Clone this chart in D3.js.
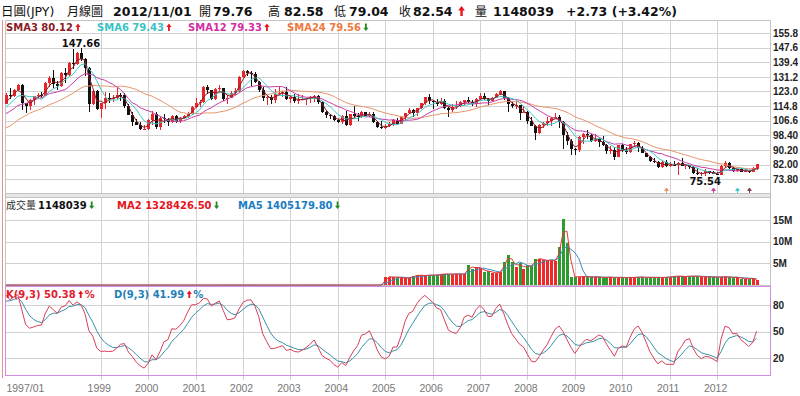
<!DOCTYPE html>
<html>
<head>
<meta charset="utf-8">
<script src="https://cdn.jsdelivr.net/npm/d3@7"></script>
<style>
  body { margin: 0; background: #fff; }
  svg { display: block; font-family: "DejaVu Sans", "Noto Sans CJK TC", sans-serif; }
</style>
</head>
<body>
<svg id="chart" width="800" height="396"></svg>
<script>
// ---- data: monthly JPY candles, 1997/01 .. 2012/11 (one row per year) ----
const open = [
  116.0,121.2,120.2,123.9,126.9,116.4,114.6,118.4,120.4,120.8,120.5,127.8,
  130.5,127.0,126.0,133.3,132.2,138.8,138.3,144.4,141.3,136.0,116.0,123.3,
  113.2,116.3,119.5,118.9,119.4,121.2,121.0,114.6,109.7,106.0,104.4,102.0,
  102.2,107.2,110.3,102.8,108.1,107.6,106.1,109.5,106.7,108.1,109.0,110.5,
  114.4,116.4,117.3,125.5,123.6,118.9,124.6,124.8,118.8,119.4,122.4,123.4,
  131.0,134.7,133.4,132.6,128.5,124.0,119.4,119.7,118.4,121.8,122.4,122.6,
  118.8,119.9,117.8,118.1,119.0,119.2,119.8,120.3,116.9,111.4,109.8,109.5,
  107.2,105.9,109.1,104.2,110.4,109.5,108.7,111.4,109.2,110.1,105.8,103.1,
  102.6,103.6,104.6,107.1,104.9,108.5,110.8,112.4,111.0,113.5,116.4,119.7,
  117.9,117.2,116.0,117.8,113.8,112.5,114.4,114.6,117.3,118.1,116.9,115.7,
  119.0,120.7,118.6,117.8,119.6,121.7,123.2,119.2,115.8,115.0,115.3,111.2,
  111.7,106.4,103.9,99.7,104.0,105.5,106.2,108.1,108.8,106.0,98.4,95.4,
  90.6,89.9,97.6,98.9,98.5,95.3,96.4,94.7,93.0,89.8,90.1,86.2,
  93.0,90.3,89.0,93.4,94.0,91.3,88.4,86.5,84.2,83.5,80.4,83.7,
  81.1,82.0,81.8,83.1,81.2,81.5,80.5,77.0,76.7,77.0,78.2,77.6,
  76.9,76.3,81.2,82.9,80.0,78.4,79.8,78.1,78.4,78.0,79.76
];
const high = [
  122.2,124.8,124.3,127.4,127.2,116.6,119.0,120.5,122.2,122.6,128.2,131.6,
  135.2,128.6,133.8,135.9,139.5,146.7,144.9,147.66,141.9,136.9,124.0,123.8,
  116.5,122.8,122.2,121.2,124.8,122.2,122.0,116.0,111.5,107.5,106.0,104.2,
  107.4,111.8,111.3,108.5,110.5,108.0,110.0,109.8,108.9,109.8,111.3,114.9,
  119.4,118.0,126.0,126.8,124.1,125.0,126.5,125.0,121.2,123.2,124.7,131.8,
  135.2,135.1,134.4,133.9,129.0,125.3,120.5,121.0,124.2,125.6,123.4,125.3,
  120.2,121.6,121.8,121.2,119.3,120.4,120.8,121.3,117.5,111.8,110.2,109.7,
  107.8,109.6,112.1,110.5,114.9,110.8,111.8,111.6,111.4,111.4,106.2,106.4,
  104.8,106.0,107.6,108.2,108.8,111.2,113.7,113.0,113.7,116.6,120.0,121.4,
  118.0,119.0,119.1,118.7,114.1,116.0,117.4,117.5,118.3,119.9,118.4,119.3,
  122.2,122.2,119.3,119.9,121.9,124.1,123.5,119.8,117.0,117.9,115.5,114.7,
  111.9,108.6,104.0,104.7,106.0,108.6,108.6,110.7,109.9,106.2,100.5,96.5,
  91.3,98.0,99.7,101.4,99.0,98.9,96.9,97.8,93.3,92.3,92.0,93.1,
  93.8,92.0,93.8,95.0,94.7,92.4,88.7,86.9,85.9,84.0,84.4,84.5,
  83.7,84.0,83.3,85.5,82.2,81.7,81.2,80.2,77.8,79.5,78.3,78.3,
  77.7,81.7,84.2,83.3,80.6,80.6,79.9,79.6,78.9,80.4,82.58
];
const low = [
  115.8,119.0,119.8,123.0,112.8,110.8,112.8,115.5,118.6,119.1,120.4,125.3,
  125.1,123.8,125.5,127.5,131.6,135.4,138.0,139.9,131.8,111.6,115.5,112.5,
  108.3,112.9,116.6,117.3,119.0,117.5,113.9,109.6,103.7,104.0,101.3,101.3,
  101.4,104.3,102.0,101.4,105.5,103.8,105.3,105.3,105.5,107.4,108.1,109.8,
  114.0,114.3,116.6,121.5,118.2,118.3,123.0,117.6,115.8,119.2,120.8,122.9,
  130.5,131.6,126.0,127.6,122.9,117.8,115.5,115.7,116.8,121.3,119.9,118.5,
  116.7,116.7,115.9,118.0,115.3,116.8,117.2,115.7,110.9,107.9,107.6,106.7,
  105.3,104.9,103.4,103.6,108.6,106.6,108.2,108.8,108.8,105.5,102.4,101.8,
  101.7,103.3,103.8,104.6,104.5,106.6,110.4,108.8,109.3,113.3,115.6,115.9,
  113.4,115.0,115.4,113.4,108.9,111.6,113.2,114.1,115.4,116.8,115.1,114.4,
  118.5,118.2,115.2,117.6,119.3,121.0,118.2,111.6,113.8,113.2,107.2,110.9,
  104.9,103.7,95.7,99.4,102.6,103.9,103.8,107.6,102.7,90.9,92.9,87.1,
  87.1,88.8,93.5,96.4,94.5,94.5,91.8,92.4,88.2,88.0,84.8,86.0,
  89.0,88.1,88.4,92.3,88.9,88.3,86.2,83.6,82.9,80.2,80.3,80.8,
  80.9,81.4,76.3,81.1,79.6,79.7,76.9,75.9,75.8,75.54,76.6,76.5,
  75.9,76.1,80.9,79.6,77.7,77.7,77.6,77.9,77.1,77.8,79.04
];
const close = [
  121.2,120.2,123.9,126.9,116.4,114.6,118.4,120.4,120.8,120.5,127.8,130.5,
  127.0,126.0,133.3,132.2,138.8,138.3,144.4,141.3,136.0,116.0,123.3,113.2,
  116.3,119.5,118.9,119.4,121.2,121.0,114.6,109.7,106.0,104.4,102.0,102.2,
  107.2,110.3,102.8,108.1,107.6,106.1,109.5,106.7,108.1,109.0,110.5,114.4,
  116.4,117.3,125.5,123.6,118.9,124.6,124.8,118.8,119.4,122.4,123.4,131.0,
  134.7,133.4,132.6,128.5,124.0,119.4,119.7,118.4,121.8,122.4,122.6,118.8,
  119.9,117.8,118.1,119.0,119.2,119.8,120.3,116.9,111.4,109.8,109.5,107.2,
  105.9,109.1,104.2,110.4,109.5,108.7,111.4,109.2,110.1,105.8,103.1,102.6,
  103.6,104.6,107.1,104.9,108.5,110.8,112.4,111.0,113.5,116.4,119.7,117.9,
  117.2,116.0,117.8,113.8,112.5,114.4,114.6,117.3,118.1,116.9,115.7,119.0,
  120.7,118.6,117.8,119.6,121.7,123.2,119.2,115.8,115.0,115.3,111.2,111.7,
  106.4,103.9,99.7,104.0,105.5,106.2,108.1,108.8,106.0,98.4,95.4,90.6,
  89.9,97.6,98.9,98.5,95.3,96.4,94.7,93.0,89.8,90.1,86.2,93.0,
  90.3,89.0,93.4,94.0,91.3,88.4,86.5,84.2,83.5,80.4,83.7,81.1,
  82.0,81.8,83.1,81.2,81.5,80.5,77.0,76.7,77.0,78.2,77.6,76.9,
  76.3,81.2,82.9,80.0,78.4,79.8,78.1,78.4,78.0,79.81,82.54
];

// months before the chart, only used to warm up the averages and KD
const preClose = [
  99.5,96.9,86.6,83.7,84.6,84.6,88.3,97.5,99.7,101.9,101.7,103.4,
  106.9,104.6,106.9,104.6,108.6,109.8,106.8,108.7,111.4,114.2,113.9,115.9
];
const preHigh = [107.9,107.8,107.0,108.2,109.5,110.0,111.2,109.1,111.6,114.8,114.3,116.2];
const preLow  = [103.3,103.6,104.4,104.0,104.1,107.8,106.1,106.6,108.7,110.6,110.9,112.3];

// volume in millions, starts 2005/01 (nothing before)
const volStart = 96;
const volume = [
  1.9,1.9,1.8,1.9,1.6,1.6,1.6,2.1,2.3,2.2,2.2,2.3,
  2.3,2.3,2.5,2.6,2.5,2.5,2.6,2.5,2.5,4.6,3.7,4.2,
  3.9,3.1,3.3,2.8,2.8,3.0,5.3,6.9,5.2,4.2,5.0,3.6,
  4.6,4.4,6.1,6.1,5.7,5.7,5.6,5.6,8.8,15.3,9.6,1.9,
  1.9,1.9,2.0,1.9,1.8,1.9,1.8,1.7,1.8,1.8,1.7,1.8,
  1.7,1.7,1.8,1.7,1.9,1.8,1.7,1.8,1.7,1.8,1.7,1.8,
  1.9,2.0,2.1,2.0,1.9,2.1,2.0,2.1,1.9,1.8,1.9,1.8,
  1.8,1.9,1.9,1.8,1.7,1.8,1.46,1.45,1.459,1.509,1.148
];

const priceTicks = [155.8,147.6,139.4,131.2,123.0,114.8,106.6,98.4,90.2,82.0,73.8];
const volTicks = [15,10,5];
const kdTicks = [80,50,20];
const yearIdx = [0,24,36,48,60,72,84,96,108,120,132,144,156,168,180];
const yearLabels = ["1997/01","1999","2000","2001","2002","2003","2004","2005",
                    "2006","2007","2008","2009","2010","2011","2012"];
// crossover signal marks under the price panel
const signals = [
  { i: 167, color: "#e8946a" },
  { i: 179, color: "#d040b0" },
  { i: 185, color: "#40c8c8" },
  { i: 188, color: "#804048" }
];

const N = close.length;
const svg = d3.select("#chart");

// ---- scales ----
const x = d3.scaleLinear().domain([0, 190]).range([5.9, 756.6]);
const yP = d3.scaleLinear().domain([73.8, 155.8]).range([179.2, 33.0]);
const yV = d3.scaleLinear().domain([0, 15]).range([285, 220]);
const yK = d3.scaleLinear().domain([0, 100]).range([376, 287.2]);

// ---- derived series ----
const allClose = preClose.concat(close);
function sma(n) {
  return d3.range(N).map(i => d3.mean(allClose.slice(24 + i - n + 1, 24 + i + 1)));
}
const sma3 = sma(3), sma6 = sma(6), sma12 = sma(12), sma24 = sma(24);

const kH = preHigh.concat(high), kL = preLow.concat(low), kC = preClose.slice(12).concat(close);
let K = 50, D = 50;
const kVals = [], dVals = [];
kC.forEach((c, t) => {
  const s = Math.max(0, t - 8);
  const hh = d3.max(kH.slice(s, t + 1)), ll = d3.min(kL.slice(s, t + 1));
  const rsv = hh > ll ? (c - ll) / (hh - ll) * 100 : 50;
  K = K * 2 / 3 + rsv / 3;
  D = D * 2 / 3 + K / 3;
  if (t >= 12) { kVals.push(K); dVals.push(D); }
});

const volAll = d3.range(N).map(i => i < volStart ? 0 : volume[i - volStart]);
function volMA(n) {
  return d3.range(N).map(i => d3.mean(volAll.slice(Math.max(0, i - n + 1), i + 1)));
}
const ma2 = volMA(2), ma5 = volMA(5);

// ---- frames and grid ----
const L = 5, R = 770;
const grid = svg.append("g").attr("shape-rendering", "crispEdges");
grid.append("rect").attr("x", L).attr("y", 193).attr("width", R - L).attr("height", 4)
  .attr("fill", "#e6e6e6").attr("stroke", "#b8b8b8");

function hGrid(vals, scale) {
  grid.selectAll(null).data(vals).join("line")
    .attr("x1", L).attr("x2", R)
    .attr("y1", d => Math.round(scale(d)) + 0.5).attr("y2", d => Math.round(scale(d)) + 0.5)
    .attr("stroke", "#d2d2d2");
}
hGrid(priceTicks, yP);
hGrid(volTicks, yV);
hGrid(kdTicks, yK);

[[20, 193], [197, 285], [286, 380]].forEach(([a, b]) => {
  grid.selectAll(null).data(yearIdx.slice(1)).join("line")
    .attr("x1", d => Math.round(x(d)) + 0.5).attr("x2", d => Math.round(x(d)) + 0.5)
    .attr("y1", a).attr("y2", b)
    .attr("stroke", "#d2d2d2");
});

grid.append("rect").attr("x", L + 0.5).attr("y", 20.5).attr("width", R - L).attr("height", 173)
  .attr("fill", "none").attr("stroke", "#c4c4c4");
grid.append("rect").attr("x", L + 0.5).attr("y", 197.5).attr("width", R - L).attr("height", 88)
  .attr("fill", "none").attr("stroke", "#c4c4c4");
grid.append("rect").attr("x", L + 0.5).attr("y", 286.5).attr("width", R - L).attr("height", 88.5)
  .attr("fill", "none").attr("stroke", "#d38ce2");
grid.append("line").attr("x1", 2.5).attr("x2", 2.5).attr("y1", 20).attr("y2", 378)
  .attr("stroke", "#e89090");

// ---- candles ----
const bars = d3.range(N).map(i => ({ i, o: open[i], h: high[i], l: low[i], c: close[i] }));
const up = d => d.c >= d.o;
const gC = svg.append("g").attr("shape-rendering", "crispEdges");
gC.selectAll("line").data(bars).join("line")
  .attr("x1", d => Math.round(x(d.i)) + 0.5).attr("x2", d => Math.round(x(d.i)) + 0.5)
  .attr("y1", d => yP(d.h)).attr("y2", d => yP(d.l))
  .attr("stroke", d => up(d) ? "#e8262a" : "#111");
gC.selectAll("rect").data(bars).join("rect")
  .attr("x", d => Math.round(x(d.i)) - 1)
  .attr("width", 3)
  .attr("y", d => yP(Math.max(d.o, d.c)))
  .attr("height", d => Math.max(1, Math.abs(yP(d.o) - yP(d.c))))
  .attr("fill", d => up(d) ? "#e8262a" : "#111");

// ---- moving averages ----
const line = (scale) => d3.line().x((d, i) => x(i)).y(d => scale(d));
[[sma24, "#e8946a"], [sma12, "#c83ca8"], [sma6, "#3cc8c8"], [sma3, "#8b1c24"]].forEach(([s, c]) => {
  svg.append("path").attr("d", line(yP)(s)).attr("fill", "none")
    .attr("stroke", c).attr("stroke-width", 1);
});

// high / low labels
const iMax = d3.maxIndex(high), iMin = d3.minIndex(low);
svg.append("text").attr("x", x(iMax)).attr("y", yP(high[iMax]) - 1)
  .attr("text-anchor", "middle").attr("font-size", 10).attr("font-weight", "bold")
  .attr("fill", "#111").text(high[iMax].toFixed(2));
svg.append("text").attr("x", x(iMin)).attr("y", yP(low[iMin]) + 9)
  .attr("text-anchor", "middle").attr("font-size", 10).attr("font-weight", "bold")
  .attr("fill", "#111").text(low[iMin].toFixed(2));

// signal marks
signals.forEach(s => {
  const cx = Math.round(x(s.i)) + 0.5;
  svg.append("path")
    .attr("d", `M${cx},188 L${cx + 1.8},190.5 L${cx - 1.8},190.5Z M${cx},189 L${cx},193`)
    .attr("fill", s.color).attr("stroke", s.color).attr("stroke-width", 1);
});

// ---- volume ----
const gV = svg.append("g").attr("shape-rendering", "crispEdges");
gV.selectAll("rect").data(bars.filter(d => d.i >= volStart)).join("rect")
  .attr("x", d => Math.round(x(d.i)) - 1)
  .attr("width", 3)
  .attr("y", d => yV(volAll[d.i]))
  .attr("height", d => yV(0) - yV(volAll[d.i]))
  .attr("fill", d => up(d) ? "#ee2a2a" : "#2f9a2f");
svg.append("path").attr("d", line(yV)(ma5)).attr("fill", "none").attr("stroke", "#3a8ac8");
svg.append("path").attr("d", line(yV)(ma2)).attr("fill", "none").attr("stroke", "#e03a3a");

// ---- KD ----
svg.append("path").attr("d", line(yK)(dVals)).attr("fill", "none").attr("stroke", "#3a90a8");
svg.append("path").attr("d", line(yK)(kVals)).attr("fill", "none").attr("stroke", "#d8405a");

// ---- axes ----
const fmtPrice = v => v >= 100 ? v.toFixed(1) : v.toFixed(2);
function rightAxis(scale, ticks, fmt) {
  const g = svg.append("g").attr("transform", `translate(${R},0)`)
    .call(d3.axisRight(scale).tickValues(ticks).tickSize(0).tickPadding(3).tickFormat(fmt));
  g.select(".domain").remove();
  g.selectAll("text").attr("font-family", null).attr("font-size", 10)
    .attr("font-weight", "bold").attr("fill", "#222");
}
rightAxis(yP, priceTicks, fmtPrice);
rightAxis(yV, volTicks, d => d + "M");
rightAxis(yK, kdTicks, d => d);

const xa = svg.append("g").attr("transform", "translate(-2,385)")
  .call(d3.axisBottom(x).tickValues(yearIdx).tickSize(0).tickPadding(0)
    .tickFormat((d, i) => yearLabels[i]));
xa.select(".domain").remove();
xa.selectAll("text").attr("font-family", null).attr("font-size", 10.5).attr("fill", "#777");
xa.selectAll("text").filter((d, i) => i === 0).attr("text-anchor", "start").attr("x", 2);

// ---- legends ----
function arrow(cx, base, dir, color, h) {
  const w = h * 0.34, hd = h * 0.45, st = h * 0.12;
  const t = base - h;
  const p = dir > 0
    ? `M${cx},${t} L${cx + w},${t + hd} L${cx + st},${t + hd} L${cx + st},${base} L${cx - st},${base} L${cx - st},${t + hd} L${cx - w},${t + hd}Z`
    : `M${cx},${base} L${cx + w},${base - hd} L${cx + st},${base - hd} L${cx + st},${t} L${cx - st},${t} L${cx - st},${base - hd} L${cx - w},${base - hd}Z`;
  svg.append("path").attr("d", p).attr("fill", color);
}
function label(xp, yp, str, color, size, bold) {
  return svg.append("text").attr("x", xp).attr("y", yp).attr("font-size", size)
    .attr("font-weight", bold ? "bold" : "normal").attr("fill", color).text(str);
}
function labelArrow(xp, yp, str, color, dir, arrowColor) {
  const t = label(xp, yp, str, color, 10, true);
  const end = xp + t.node().getComputedTextLength();
  arrow(end + 5, yp, dir, arrowColor, 7.5);
  return end + 8;
}

// header
label(1, 16, "日圓(JPY)", "#111", 12.5, false);
label(67, 16, "月線圖", "#111", 12, false);
label(113, 16, "2012/11/01", "#111", 12.5, true);
label(199, 16, "開", "#111", 12, false);
label(213, 16, "79.76", "#111", 12.5, true);
label(268, 16, "高", "#111", 12, false);
label(284, 16, "82.58", "#111", 12.5, true);
label(334, 16, "低", "#111", 12, false);
label(349, 16, "79.04", "#111", 12.5, true);
label(399, 16, "收", "#111", 12, false);
const closeTxt = label(413, 16, "82.54", "#111", 12.5, true);
arrow(413 + closeTxt.node().getComputedTextLength() + 9, 16, 1, "#e8141c", 10);
label(475, 16, "量", "#111", 12, false);
label(493, 16, "1148039", "#111", 12.5, true);
label(566, 16, "+2.73 (+3.42%)", "#111", 12.5, true);

// price legend
labelArrow(6, 31, "SMA3 80.12", "#8b1c24", 1, "#e8141c");
labelArrow(97, 31, "SMA6 79.43", "#38c4c4", 1, "#e8141c");
labelArrow(188, 31, "SMA12 79.33", "#d22fa3", 1, "#e8141c");
labelArrow(287, 31, "SMA24 79.56", "#f07840", -1, "#1f8a1f");

// volume legend
label(6, 209, "成交量", "#333", 10, false);
labelArrow(38, 209, "1148039", "#111", -1, "#1f8a1f");
labelArrow(117, 209, "MA2 1328426.50", "#e8141c", -1, "#1f8a1f");
labelArrow(238, 209, "MA5 1405179.80", "#1c7cc4", -1, "#1f8a1f");

// KD legend
const kEnd = labelArrow(6, 298, "K(9,3) 50.38", "#e02030", 1, "#e8141c");
label(kEnd + 1, 298, "%", "#e02030", 10, true);
const dEnd = labelArrow(114, 298, "D(9,3) 41.99", "#1f7fb8", 1, "#e8141c");
label(dEnd + 1, 298, "%", "#1f7fb8", 10, true);
</script>
</body>
</html>
